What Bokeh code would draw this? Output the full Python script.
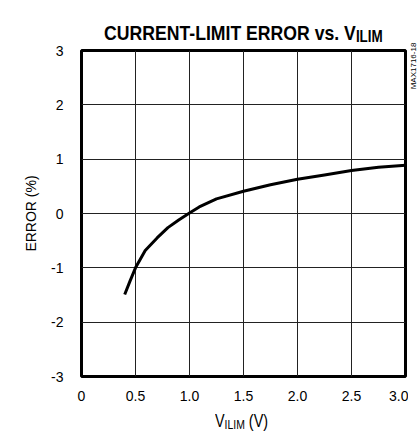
from bokeh.plotting import figure
from bokeh.models import FixedTicker, Range1d, Div
from bokeh.layouts import column, row
from bokeh.embed import file_html
from bokeh.resources import INLINE

v_ilim = [0.40, 0.45, 0.50, 0.59, 0.70, 0.80, 0.90, 1.00, 1.09, 1.25, 1.50, 1.75, 2.00, 2.25, 2.50, 2.75, 3.00]
error_pct = [-1.49, -1.24, -1.00, -0.68, -0.45, -0.26, -0.12, 0.01, 0.12, 0.27, 0.41, 0.53, 0.63, 0.71, 0.79, 0.85, 0.89]

x_ticks = [0, 0.5, 1.0, 1.5, 2.0, 2.5, 3.0]
x_tick_labels = ["0", "0.5", "1.0", "1.5", "2.0", "2.5", "3.0"]
y_ticks = [-3, -2, -1, 0, 1, 2, 3]
y_tick_labels = ["-3", "-2", "-1", "0", "1", "2", "3"]

title_main = "CURRENT-LIMIT ERROR vs. V"
title_sub = "ILIM"
x_label_main = "V"
x_label_sub = "ILIM"
x_label_unit = "(V)"
y_label = "ERROR (%)"
fig_code = "MAX1716-18"

FONT = "Liberation Sans"

p = figure(output_backend="svg", toolbar_location=None,
           frame_width=324, frame_height=326,
           min_border_left=81, min_border_top=6, min_border_right=3, min_border_bottom=28,
           x_range=Range1d(0, 3), y_range=Range1d(-3, 3))
p.margin = 0
p.background_fill_color = "white"
p.border_fill_color = "white"
p.outline_line_color = "black"
p.outline_line_width = 3

p.xaxis.ticker = FixedTicker(ticks=x_ticks)
p.yaxis.ticker = FixedTicker(ticks=y_ticks)
p.xaxis.major_label_overrides = {t: l for t, l in zip(x_ticks, x_tick_labels)}
p.yaxis.major_label_overrides = {t: l for t, l in zip(y_ticks, y_tick_labels)}
for ax in (p.xaxis, p.yaxis):
    ax.axis_line_color = None
    ax.major_tick_line_color = None
    ax.minor_tick_line_color = None
    ax.major_label_text_font = FONT
    ax.major_label_text_font_size = "14px"
    ax.major_label_text_color = "black"
p.xaxis.major_label_standoff = 8
p.yaxis.major_label_standoff = 12
p.yaxis.axis_label = y_label
p.yaxis.axis_label_text_font = FONT
p.yaxis.axis_label_text_font_size = "14px"
p.yaxis.axis_label_text_font_style = "normal"
p.yaxis.axis_label_text_color = "black"
p.yaxis.axis_label_standoff = 9

p.xgrid.ticker = FixedTicker(ticks=x_ticks)
p.ygrid.ticker = FixedTicker(ticks=y_ticks)
for g in (p.xgrid, p.ygrid):
    g.grid_line_color = "#222222"
    g.grid_line_width = 1
    g.grid_line_alpha = 1

p.line(v_ilim, error_pct, line_color="black", line_width=3)

title_div = Div(width=418, height=44, margin=0, text=(
    "<div style=\"padding:22px 0 0 104px; font-family:'Liberation Sans'; font-weight:bold; "
    "font-size:21px; line-height:21px; white-space:nowrap; color:black; "
    "transform:scaleX(0.84); transform-origin:104px 0;\">"
    f"{title_main}<span style=\"font-size:16px; vertical-align:-2px\">{title_sub}</span></div>"))

code_div = Div(width=10, height=360, margin=0, text=(
    "<div style=\"position:relative; width:10px; height:100px;\">"
    "<div style=\"position:absolute; left:6px; top:22px; transform:translate(-50%,-50%) rotate(-90deg); "
    "white-space:nowrap; font-family:'Liberation Sans'; font-size:8px; line-height:8px; color:black;\">"
    f"{fig_code}</div></div>"))

xlabel_div = Div(width=418, height=27, margin=0, text=(
    "<div style=\"padding:8px 0 0 215px; font-family:'Liberation Sans'; font-size:18px; "
    "line-height:18px; white-space:nowrap; color:black; transform:scaleX(0.8); transform-origin:215px 0;\">"
    f"{x_label_main}<span style=\"font-size:13px; vertical-align:-2px\">{x_label_sub}</span> {x_label_unit}</div>"))

layout = column(title_div, row(p, code_div, spacing=0), xlabel_div, spacing=0)

open("out.html", "w").write(file_html(layout, INLINE))
